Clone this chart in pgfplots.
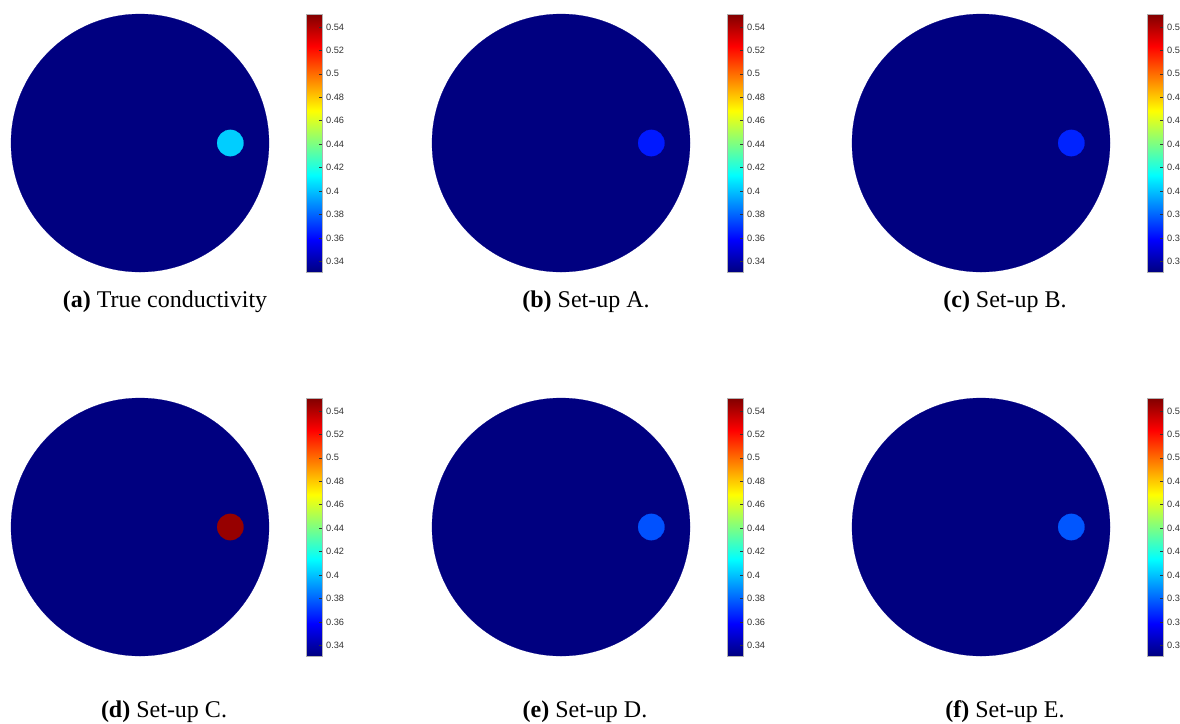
\documentclass[border=0pt]{standalone}
\usepackage{pgfplots}
\pgfplotsset{compat=1.18}
\usepackage{fontspec}
\setmainfont{Liberation Serif}
\newfontfamily\cbfont{Liberation Sans}
\definecolor{cbtext}{RGB}{50,50,50}
\pgfplotsset{
  panel/.style={
    anchor=center, scale only axis, width=129pt, height=129pt,
    xmin=-1, xmax=1, ymin=-1, ymax=1, hide axis, clip=false,
    colormap/jet, point meta min=0.331, point meta max=0.551,
    colorbar,
    colorbar style={
      at={(parent axis.north east)}, anchor=north west, xshift=10pt,
      scale only axis, width=8pt, height=129pt,
      ytick={0.34,0.36,0.38,0.40,0.42,0.44,0.46,0.48,0.50,0.52,0.54},
      ytick pos=right, yticklabel pos=right, tick align=inside,
      major tick length=1.5pt,
      tick style={draw=black!80, line width=0.3pt},
      axis line style={draw=gray!60, line width=0.4pt},
      yticklabel style={font=\cbfont\fontsize{4.6}{5}\selectfont, text=cbtext, xshift=-1.5pt},
    },
  },
  disk/.style={scatter, only marks, mark=*, mark size=64.5pt, scatter src=explicit,
    scatter/use mapped color={draw=mapped color, fill=mapped color}, line width=0.1pt},
  incl/.style={scatter, only marks, mark=*, mark size=6.6pt, scatter src=explicit,
    scatter/use mapped color={draw=mapped color, fill=mapped color}, line width=0.1pt},
  fulllabels/.style={colorbar style={yticklabels={0.34,0.36,0.38,0.4,0.42,0.44,0.46,0.48,0.5,0.52,0.54}}},
  cutlabels/.style={colorbar style={yticklabels={0.3,0.3,0.3,0.4,0.4,0.4,0.4,0.4,0.5,0.5,0.5}}},
}
\begin{document}
\begin{tikzpicture}
\useasboundingbox (0,0) rectangle (590pt,-362pt);
% row 1
\begin{axis}[panel, fulllabels, at={(70pt,-71.5pt)}]
\addplot[disk] coordinates {(0,0) [0.331]};
\addplot[incl] coordinates {(0.70,0) [0.403]};
\end{axis}
\begin{axis}[panel, fulllabels, at={(280.5pt,-71.5pt)}]
\addplot[disk] coordinates {(0,0) [0.331]};
\addplot[incl] coordinates {(0.70,0) [0.364]};
\end{axis}
\begin{axis}[panel, cutlabels, at={(490.5pt,-71.5pt)}]
\addplot[disk] coordinates {(0,0) [0.331]};
\addplot[incl] coordinates {(0.70,0) [0.366]};
\end{axis}
% row 2
\begin{axis}[panel, fulllabels, at={(70pt,-263.5pt)}]
\addplot[disk] coordinates {(0,0) [0.331]};
\addplot[incl] coordinates {(0.70,0) [0.546]};
\end{axis}
\begin{axis}[panel, fulllabels, at={(280.5pt,-263.5pt)}]
\addplot[disk] coordinates {(0,0) [0.331]};
\addplot[incl] coordinates {(0.70,0) [0.376]};
\end{axis}
\begin{axis}[panel, cutlabels, at={(490.5pt,-263.5pt)}]
\addplot[disk] coordinates {(0,0) [0.331]};
\addplot[incl] coordinates {(0.70,0) [0.377]};
\end{axis}
% captions
\begin{scope}[every node/.style={anchor=base, font=\fontsize{12}{14}\selectfont, inner sep=0pt}]
\node at (82.5pt,-153.5pt) {\textbf{(a)} True conductivity};
\node at (293pt,-153.5pt) {\textbf{(b)} Set-up A.};
\node at (502.5pt,-153.5pt) {\textbf{(c)} Set-up B.};
\node at (82pt,-358.5pt) {\textbf{(d)} Set-up C.};
\node at (292.5pt,-358.5pt) {\textbf{(e)} Set-up D.};
\node at (502.5pt,-358.5pt) {\textbf{(f)} Set-up E.};
\end{scope}
\end{tikzpicture}
\end{document}
